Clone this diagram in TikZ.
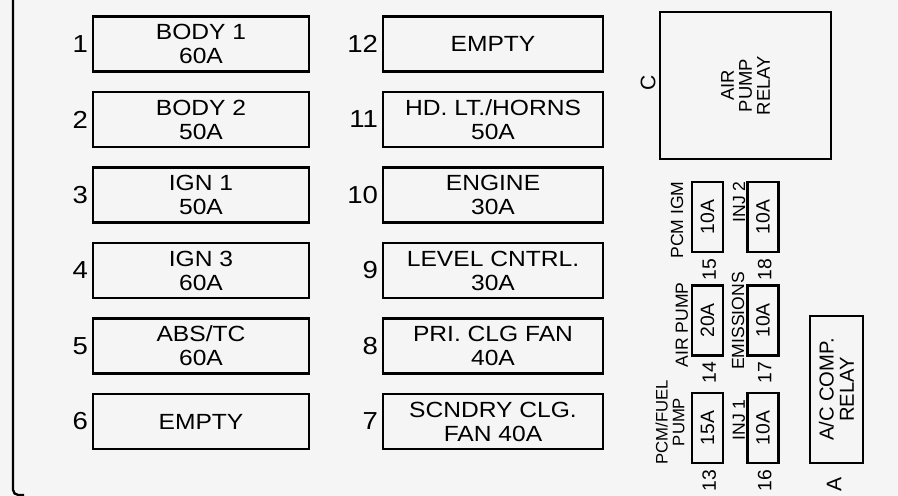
\documentclass[tikz,border=0pt]{standalone}
\usepackage{fontspec}
\setmainfont{Liberation Sans}
\newfontfamily\widefont[FakeStretch=1.12]{Liberation Sans}
\usetikzlibrary{positioning}

\tikzset{
  fuse/.style={draw, line width=1.3pt, minimum height=1.1cm, inner sep=0pt, align=center,
    font=\widefont\fontsize{12.5}{13.6}\selectfont},
  num/.style={inner sep=1pt, font=\widefont\fontsize{14}{14}\selectfont},
  minifuse/.style={draw, line width=1.2pt, rotate=90, minimum width=1.4cm, minimum height=0.62cm,
    inner sep=0pt, font=\fontsize{11}{11}\selectfont},
  relay/.style={draw, line width=1.3pt, rotate=90, inner sep=0pt, align=center},
  lbl/.style={rotate=90, inner sep=0pt, align=center, font=\fontsize{10}{10}\selectfont},
  frame/.style={line width=1.3pt},
}

\begin{document}
\begin{tikzpicture}[x=0.02cm, y=-0.02cm]

\fill[black!4] (0,0) rectangle (898,496);
\useasboundingbox (0,0) rectangle (898,496);

% Housing edge
\draw[frame, rounded corners=3pt] (13,0) -- (13,495) -- (24,495);

% Left row of maxi fuses, 1 to 6
\foreach \txt [count=\i] in {{BODY 1\\60A},{BODY 2\\50A},{IGN 1\\50A},{IGN 3\\60A},{ABS/TC\\60A},{EMPTY}} {
    \pgfmathsetmacro\yc{44+(\i-1)*75.5}
    \node[fuse, minimum width=4.32cm] (b\i) at (201,\yc) {\txt};
    \node[num, left=1pt of b\i] (n\i) {\i};
}

% Middle row, 12 down to 7
\foreach \txt [count=\i] in {{EMPTY},{HD. LT./HORNS\\50A},{ENGINE\\30A},{LEVEL CNTRL.\\30A},{PRI. CLG FAN\\40A},{SCNDRY CLG.\\FAN 40A}} {
    \pgfmathsetmacro\yc{44+(\i-1)*75.5}
    \pgfmathtruncatemacro\fnum{13-\i}
    \node[fuse, minimum width=4.4cm] (b\fnum) at (493,\yc) {\txt};
    \node[num, left=1pt of b\fnum] (n\fnum) {\fnum};
}

% Relays
\node[relay, minimum width=2.94cm, minimum height=3.42cm, font=\fontsize{10.5}{10.2}\selectfont]
    (relayC) at (745.5,85.5) {AIR\\PUMP\\RELAY};
\node[lbl, font=\fontsize{12}{12}\selectfont] (lblC) at (648,83) {C};

\node[relay, minimum width=2.94cm, minimum height=1.06cm, font=\fontsize{11.5}{11.5}\selectfont]
    (relayA) at (836.5,389.5) {A/C COMP.\\RELAY};
\node[lbl, font=\fontsize{12}{12}\selectfont] (lblA) at (834,484) {A};

% Mini fuses 13 to 18
\foreach \fid/\x/\y/\amp in {15/707.5/217/10A, 18/763/217/10A, 14/707.5/320.5/20A,
                             17/763/320.5/10A, 13/707.5/428/15A, 16/763/428/10A} {
    \node[minifuse] (f\fid) at (\x,\y) {\amp};
    \node[lbl, anchor=east, font=\fontsize{11}{11}\selectfont] (n\fid)
        at ([xshift=1pt, yshift=-3pt]f\fid.west) {\fid};
}

% Circuit names
\node[lbl] (lblPcmIgm) at (677,220) {PCM IGM};
\node[lbl] (lblInj2) at (739,202) {INJ 2};
\node[lbl] (lblAirPump) at (682,325) {AIR PUMP};
\node[lbl] (lblEmis) at (738,321) {EMISSIONS};
\node[lbl, font=\fontsize{9.5}{9.6}\selectfont] (lblPcmFuel) at (670,422) {PCM/FUEL\\PUMP};
\node[lbl] (lblInj1) at (739,420) {INJ 1};

\end{tikzpicture}
\end{document}
